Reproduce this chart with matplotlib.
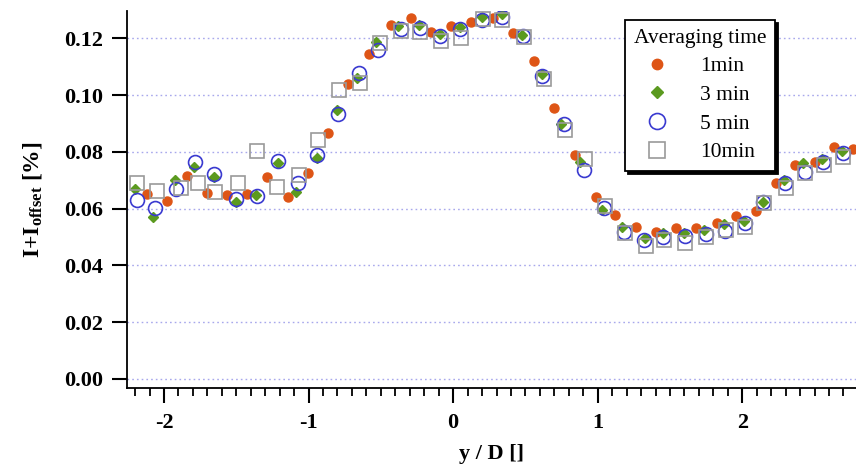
import matplotlib

matplotlib.use("Agg")
import matplotlib.pyplot as plt  # noqa: E402
from matplotlib.ticker import MultipleLocator  # noqa: E402

# positions y/D for each averaging window
x_1min = [-2.115, -1.977, -1.843, -1.704, -1.565, -1.425, -1.286, -1.142, -1.003,
          -0.864, -0.725, -0.579, -0.433, -0.294, -0.151, -0.012, 0.127, 0.278,
          0.417, 0.556, 0.695, 0.841, 0.985, 1.119, 1.263, 1.402, 1.541, 1.680,
          1.823, 1.958, 2.097, 2.231, 2.363, 2.502, 2.634, 2.768]
y_1min = [0.0650, 0.0627, 0.0716, 0.0654, 0.0647, 0.0651, 0.0713, 0.0642, 0.0724,
          0.0865, 0.1039, 0.1144, 0.1246, 0.1272, 0.1223, 0.1244, 0.1256, 0.1272,
          0.1220, 0.1120, 0.0953, 0.0789, 0.0642, 0.0579, 0.0535, 0.0517, 0.0532,
          0.0531, 0.0550, 0.0574, 0.0593, 0.0689, 0.0754, 0.0765, 0.0818, 0.0809]

x_3min = [-2.200, -2.079, -1.922, -1.794, -1.652, -1.501, -1.367, -1.211, -1.089,
          -0.943, -0.804, -0.665, -0.533, -0.382, -0.238, -0.092, 0.047, 0.197,
          0.336, 0.475, 0.614, 0.749, 0.881, 1.031, 1.170, 1.327, 1.452, 1.598,
          1.737, 1.876, 2.015, 2.147, 2.286, 2.420, 2.555, 2.687]
y_3min = [0.0668, 0.0569, 0.0701, 0.0748, 0.0712, 0.0622, 0.0648, 0.0762, 0.0660,
          0.0777, 0.0947, 0.1059, 0.1188, 0.1243, 0.1246, 0.1214, 0.1240, 0.1276,
          0.1284, 0.1211, 0.1074, 0.0897, 0.0765, 0.0595, 0.0534, 0.0495, 0.0513,
          0.0515, 0.0525, 0.0546, 0.0557, 0.0624, 0.0701, 0.0759, 0.0774, 0.0804]

x_5min = [-2.189, -2.062, -1.918, -1.788, -1.652, -1.499, -1.355, -1.209, -1.072,
          -0.943, -0.794, -0.648, -0.521, -0.361, -0.231, -0.092, 0.047, 0.197,
          0.336, 0.480, 0.618, 0.764, 0.903, 1.042, 1.181, 1.320, 1.452, 1.605,
          1.749, 1.883, 2.022, 2.147, 2.293, 2.432, 2.559, 2.694]
y_5min = [0.0630, 0.0601, 0.0668, 0.0764, 0.0721, 0.0633, 0.0645, 0.0768, 0.0689,
          0.0789, 0.0932, 0.1076, 0.1158, 0.1232, 0.1237, 0.1209, 0.1232, 0.1264,
          0.1276, 0.1209, 0.1067, 0.0898, 0.0736, 0.0602, 0.0519, 0.0489, 0.0501,
          0.0504, 0.0511, 0.0522, 0.0548, 0.0624, 0.0689, 0.0730, 0.0765, 0.0797]

x_10min = [-2.185, -2.050, -1.883, -1.765, -1.649, -1.489, -1.355, -1.216, -1.067,
           -0.934, -0.788, -0.642, -0.509, -0.363, -0.231, -0.081, 0.054, 0.208,
           0.340, 0.487, 0.626, 0.771, 0.915, 1.049, 1.188, 1.334, 1.459, 1.605,
           1.749, 1.890, 2.022, 2.154, 2.300, 2.432, 2.564, 2.699]
y_10min = [0.0689, 0.0663, 0.0673, 0.0689, 0.0658, 0.0689, 0.0804, 0.0677, 0.0718,
           0.0842, 0.1018, 0.1043, 0.1184, 0.1227, 0.1223, 0.1190, 0.1200, 0.1268,
           0.1264, 0.1205, 0.1055, 0.0878, 0.0773, 0.0609, 0.0515, 0.0468, 0.0489,
           0.0479, 0.0501, 0.0525, 0.0536, 0.0619, 0.0671, 0.0724, 0.0754, 0.0783]

y_ticks = [0.00, 0.02, 0.04, 0.06, 0.08, 0.10, 0.12]
x_ticks = [-2, -1, 0, 1, 2]

plt.rcParams["font.family"] = ["Liberation Serif", "DejaVu Serif"]
plt.rcParams["mathtext.fontset"] = "custom"
plt.rcParams["mathtext.rm"] = "Liberation Serif:bold"
plt.rcParams["mathtext.it"] = "Liberation Serif:bold"
plt.rcParams["mathtext.bf"] = "Liberation Serif:bold"

fig = plt.figure(figsize=(8.56, 4.68), dpi=100)
ax = fig.add_axes([0.1484, 0.1709, 0.8516, 0.8056])

ax.plot(x_1min, y_1min, ls="none", marker="o", ms=6.5, mfc="#de5516",
        mec="#de5516", label="1min")
ax.plot(x_3min, y_3min, ls="none", marker="D", ms=5.0, mfc="#5b9a1f",
        mec="#5b9a1f", label="3 min")
ax.plot(x_5min, y_5min, ls="none", marker="o", ms=10, mfc="none",
        mec="#3a3ad0", mew=1.2, label="5 min")
ax.plot(x_10min, y_10min, ls="none", marker="s", ms=9.5, mfc="none",
        mec="#9a9a9a", mew=1.2, label="10min")

ax.set_xlim(-2.256, 2.787)
ax.set_ylim(-0.0032, 0.1296)
ax.set_xticks(x_ticks)
ax.set_xticklabels(["-2", "-1", "0", "1", "2"])
ax.xaxis.set_minor_locator(MultipleLocator(0.1))
ax.set_yticks(y_ticks)
ax.set_yticklabels([f"{v:.2f}" for v in y_ticks])

# dotted horizontal guides at each major y tick
for v in y_ticks:
    ax.axhline(v, color="#a8a8ec", lw=1.0, ls=(0, (1.2, 2.2)), zorder=0)

for side in ("top", "right"):
    ax.spines[side].set_visible(False)
for side in ("left", "bottom"):
    ax.spines[side].set_linewidth(1.3)

ax.tick_params(axis="both", which="major", direction="out", length=11, width=1.5,
               labelsize=16, pad=7)
ax.tick_params(axis="y", pad=6.5)
ax.tick_params(axis="x", which="minor", direction="out", length=5.5, width=1.3)
for lab in ax.get_xticklabels() + ax.get_yticklabels():
    lab.set_fontweight("bold")

ax.set_xlabel("y / D []", fontsize=16, fontweight="bold", labelpad=8)
ax.set_ylabel(r"I+I$_{\mathrm{offset}}$ [%]", fontsize=17, fontweight="bold",
              labelpad=14)

leg = ax.legend(title="Averaging time", loc="upper right",
                bbox_to_anchor=(0.889, 0.976), borderaxespad=0,
                fontsize=15.5, title_fontsize=15.5, markerscale=1.15,
                frameon=True, fancybox=False, edgecolor="black",
                shadow={"color": "black", "alpha": 1.0},
                handletextpad=1.5, labelspacing=0.4, borderpad=0.4,
                handlelength=1.0, markerfirst=True)
leg.get_frame().set_linewidth(1.3)

fig.savefig("out.png", dpi=100)
